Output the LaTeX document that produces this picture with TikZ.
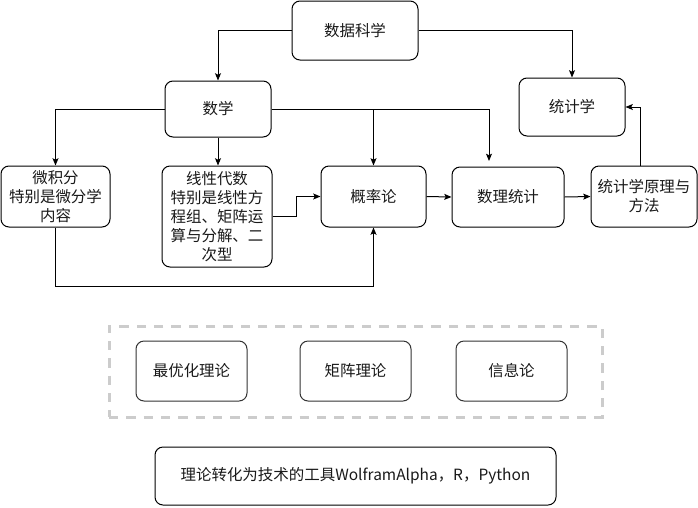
\documentclass[tikz,border=0pt]{standalone}
\usepackage{fontspec}
\setmainfont{Noto Sans CJK SC}
\usetikzlibrary{arrows.meta,calc}
\begin{document}
\begin{tikzpicture}[x=0.75pt,y=-0.75pt,
  box/.style={draw=black,line width=0.75pt,rounded corners=6pt,inner sep=0pt,
    align=center,font=\fontsize{11.6pt}{14.25pt}\selectfont,text=black!90},
  gbox/.style={box,draw=black!80},
  arr/.style={draw=black,line width=0.75pt,-{Stealth[length=5.5pt,width=4.5pt,inset=1.2pt]}},
  grpbox/.style={draw=black!20,line width=2.25pt,dash pattern=on 7pt off 6pt,inner sep=0pt}]
\useasboundingbox (0,0) rectangle (698,507);
% nodes
\node[box,minimum width=94.5pt,minimum height=44.25pt] (ds) at (355,30.5) {数据科学};
\node[box,minimum width=79.5pt,minimum height=42pt] (math) at (218,109) {数学};
\node[box,minimum width=79.5pt,minimum height=43.5pt] (stat) at (572,107) {统计学};
\node[box,minimum width=81.75pt,minimum height=45.75pt] (calc) at (55.5,196.5) {微积分\\特别是微分学\\内容};
\node[box,minimum width=82.5pt,minimum height=75.75pt] (lin) at (217,216.5) {线性代数\\特别是线性方\\程组、矩阵运\\算与分解、二\\次型};
\node[box,minimum width=78.75pt,minimum height=45.75pt] (prob) at (373.5,196.5) {概率论};
\node[box,minimum width=84pt,minimum height=45pt] (mstat) at (508,197) {数理统计};
\node[box,minimum width=79.5pt,minimum height=45.75pt] (princ) at (644,196.5) {统计学原理与\\方法};
\node[grpbox,minimum width=369.75pt,minimum height=68.25pt] (grp) at (355.5,371.5) {};
\node[gbox,minimum width=83.25pt,minimum height=45pt] (opt) at (191.5,371) {最优化理论};
\node[gbox,minimum width=83.25pt,minimum height=45pt] (mat) at (355.5,371) {矩阵理论};
\node[gbox,minimum width=83.25pt,minimum height=45pt] (info) at (511.5,371) {信息论};
\node[box,minimum width=300.75pt,minimum height=43.5pt] (tool) at (355.5,476) {理论转化为技术的工具WolframAlpha，R，Python};
% helper coordinates
\coordinate (msin) at (489,161);
\coordinate (lowy) at (0,286);
\coordinate (pup) at (640,166);
% connectors
\draw[arr] (ds.west) -| (math.north);
\draw[arr] (ds.east) -| (stat.north);
\draw[arr] (math.west) -| (calc.north);
\draw[arr] (math.south) -- (math.south |- lin.north);
\draw[arr] (math.east) -| (prob.north);
\draw[arr] (math.east) -| (msin);
\draw[arr] (lin.east) -| ($(lin.east)!.5!(prob.west)$) |- (prob.west);
\draw[arr] (calc.south) -- (calc.south |- lowy) -| (prob.south);
\draw[arr] (prob.east) -- (mstat.west);
\draw[arr] (mstat.east) -- (princ.west);
\draw[arr] (pup) |- (stat.east);
\end{tikzpicture}
\end{document}
